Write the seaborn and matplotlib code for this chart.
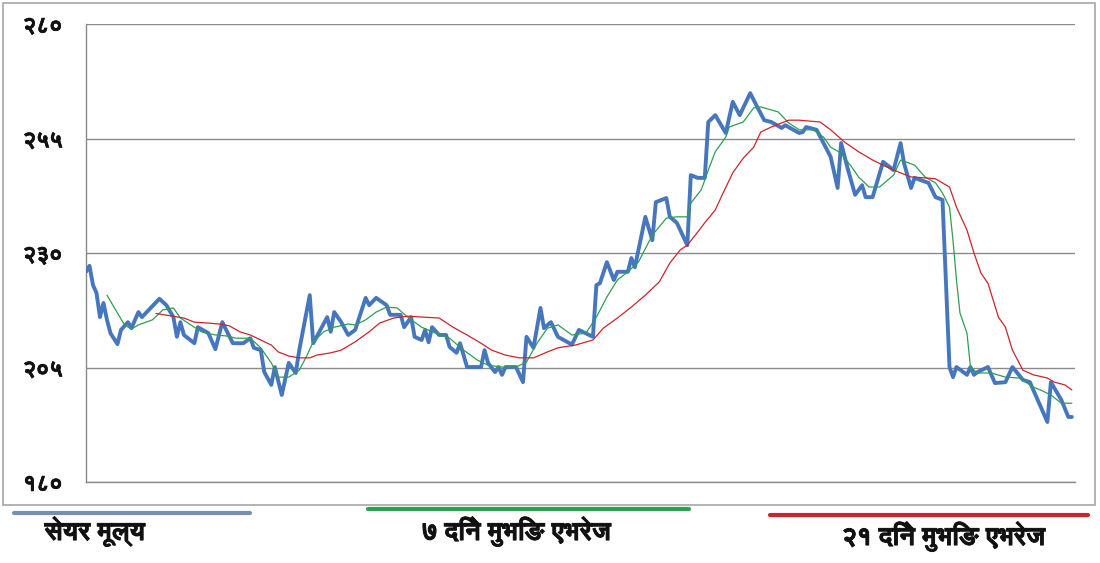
import numpy as np
import pandas as pd
import seaborn as sns
import matplotlib
matplotlib.use("Agg")
import matplotlib.pyplot as plt
from matplotlib import font_manager
from matplotlib import patheffects
from matplotlib.ft2font import FT2Font
from matplotlib.lines import Line2D
from matplotlib.patches import Rectangle

# share price (day index, value)
price_day = [0, 1, 2, 3, 4, 5, 6, 7, 9, 10,
             12, 13, 15, 16, 21, 23, 25, 26, 27, 28,
             31, 32, 35, 37, 39, 42, 45, 47, 48, 50,
             51, 53, 54, 56, 58, 60, 61, 64, 65, 69,
             70, 71, 73, 75, 77, 80, 81, 83, 86, 87,
             90, 91, 93, 94, 96, 97, 98, 99, 101, 103,
             104, 106, 107, 109, 113, 114, 115, 117, 118, 119,
             120, 123, 125, 126, 128, 130, 131, 133, 135, 139,
             141, 145, 146, 147, 149, 151, 152, 155, 156, 157,
             160, 162, 163, 166, 167, 169, 172, 173, 175, 177,
             178, 180, 182, 183, 185, 187, 190, 192, 194, 196,
             199, 200, 204, 205, 206, 209, 213, 215, 216, 218,
             220, 222, 223, 225, 228, 231, 233, 234, 236, 237,
             241, 243, 245, 247, 248, 249, 252, 253, 254, 255,
             258, 260, 263, 265, 268, 270, 275, 276, 279, 281,
             282]
price = [225.9, 227.2, 223.0, 221.3, 216.0, 219.1, 215.4, 212.5, 210.1, 213.2,
         214.9, 213.6, 217.1, 216.0, 220.0, 218.6, 216.0, 211.7, 214.9, 212.1,
         210.3, 213.8, 212.5, 209.0, 214.9, 210.3, 210.3, 211.4, 209.3, 208.8,
         204.0, 201.2, 205.1, 199.0, 206.0, 203.8, 208.8, 220.8, 210.3, 216.0,
         212.8, 217.1, 214.9, 212.1, 213.2, 220.2, 218.6, 220.2, 218.6, 216.5,
         216.5, 213.8, 216.0, 211.7, 211.0, 213.2, 210.5, 213.8, 212.1, 212.1,
         209.5, 208.2, 210.3, 205.1, 205.1, 208.8, 206.0, 204.0, 205.1, 203.4,
         205.1, 205.1, 201.8, 211.7, 209.3, 218.0, 213.6, 214.9, 211.7, 210.0,
         213.2, 211.7, 223.0, 223.4, 228.0, 224.1, 225.9, 225.9, 228.9, 226.9,
         237.9, 232.8, 241.1, 242.0, 237.9, 236.6, 231.7, 247.0, 246.4, 246.4,
         258.6, 260.1, 257.5, 256.2, 263.0, 260.1, 264.9, 261.9, 259.0, 258.6,
         257.3, 257.9, 256.2, 256.4, 257.5, 256.9, 251.0, 244.2, 254.0, 248.1,
         242.7, 244.8, 242.2, 242.2, 249.9, 248.1, 254.0, 249.6, 244.2, 246.4,
         245.3, 242.2, 241.6, 205.1, 202.9, 205.1, 203.4, 205.1, 203.4, 204.0,
         205.1, 201.6, 201.8, 205.1, 202.3, 201.8, 193.1, 201.8, 197.9, 194.2,
         194.2]

# 7 day moving average
ma7_day = [6, 9, 11, 13, 15, 19, 22, 25, 27, 30,
           33, 37, 40, 43, 47, 50, 53, 55, 58, 61,
           63, 65, 68, 71, 75, 77, 80, 83, 86, 89,
           92, 96, 100, 104, 108, 112, 115, 119, 123, 126,
           129, 132, 135, 139, 143, 146, 149, 152, 155, 158,
           162, 166, 169, 172, 173, 176, 178, 180, 183, 184,
           188, 191, 193, 198, 201, 204, 208, 211, 213, 216,
           219, 221, 224, 227, 231, 233, 237, 240, 243, 245,
           247, 248, 249, 250, 252, 253, 255, 259, 263, 267,
           271, 273, 276, 279, 282]
ma7 = [220.8, 216.9, 214.3, 213.4, 214.3, 215.4, 217.6, 218.0, 215.8, 214.3,
       212.8, 212.1, 211.9, 211.4, 211.4, 209.3, 206.0, 202.9, 202.9, 204.4,
       207.3, 210.6, 212.8, 213.8, 214.5, 214.3, 215.4, 217.1, 218.2, 218.0,
       216.0, 213.8, 212.5, 211.4, 208.8, 206.6, 205.5, 205.1, 205.1, 206.2,
       210.3, 213.6, 214.3, 212.1, 212.5, 216.0, 220.4, 224.1, 225.9, 228.0,
       233.9, 237.6, 237.9, 237.9, 240.9, 243.8, 248.1, 252.1, 255.3, 257.5,
       258.6, 261.7, 261.9, 260.8, 258.4, 256.9, 256.9, 255.3, 253.1, 251.8,
       248.8, 246.6, 244.4, 244.4, 247.0, 250.3, 249.2, 246.6, 245.3, 243.1,
       240.0, 232.8, 224.1, 216.9, 212.5, 205.1, 203.8, 203.8, 202.9, 202.7,
       200.7, 200.1, 199.0, 197.2, 197.2]

# 21 day moving average
ma21_day = [20, 28, 31, 35, 38, 41, 44, 47, 50, 53,
            55, 58, 61, 64, 66, 70, 73, 77, 81, 84,
            88, 92, 101, 105, 109, 113, 116, 120, 124, 128,
            132, 135, 140, 145, 148, 152, 156, 160, 164, 167,
            170, 172, 175, 177, 180, 182, 185, 188, 191, 193,
            196, 201, 204, 210, 213, 217, 221, 225, 229, 233,
            236, 240, 243, 247, 249, 252, 254, 256, 258, 261,
            263, 265, 268, 271, 275, 277, 280, 282]
ma21 = [216.8, 215.8, 214.9, 214.7, 214.5, 214.1, 212.8, 212.1, 211.0, 209.9,
        208.4, 207.5, 207.1, 207.1, 207.7, 208.2, 208.8, 210.6, 212.8, 214.7,
        215.8, 216.2, 215.8, 213.8, 212.1, 210.3, 208.8, 207.7, 207.1, 207.1,
        208.4, 209.3, 209.9, 211.0, 213.6, 215.8, 218.2, 220.8, 223.7, 227.8,
        230.7, 231.7, 234.6, 236.6, 239.4, 242.7, 247.5, 250.7, 253.1, 256.4,
        257.5, 259.0, 259.0, 258.6, 256.9, 254.2, 252.1, 250.3, 248.8, 247.5,
        246.6, 246.4, 246.2, 244.4, 240.0, 235.0, 230.0, 225.6, 223.4, 216.0,
        213.8, 208.8, 204.4, 203.4, 202.7, 201.8, 201.2, 200.1]

y_ticks = [180, 205, 230, 255, 280]
y_tick_labels = ["१८०", "२०५", "२३०", "२५५", "२८०"]
labels = ["सेयर मूल्य", "७ दिने मुभिङ एभरेज", "२१ दिने मुभिङ एभरेज"]
colors = ["#4677be", "#2e9e52", "#c9252c"]
legend_colors = ["#7590b4", "#2e9e52", "#c9252c"]


def find_font(ch):
    found = []
    for f in font_manager.fontManager.ttflist:
        try:
            if ord(ch) in FT2Font(f.fname).get_charmap():
                found.append(f)
        except Exception:
            pass
    if not found:
        return None
    heavy = [f for f in found if str(f.weight) in ("bold", "700", "600", "semibold", "800")]
    return (heavy or found)[0].name


sns.set_style("white")
deva = find_font("स")
families = [deva, "DejaVu Sans"] if deva else ["DejaVu Sans"]
plt.rcParams["font.family"] = families

W, H = 1100, 563
fig = plt.figure(figsize=(11, 5.63), dpi=100)
ax = fig.add_axes([86 / W, 1 - 482 / H, (1075 - 86) / W, (482 - 24) / H])

df_p = pd.DataFrame({"day": price_day, "value": price})
df_7 = pd.DataFrame({"day": ma7_day, "value": ma7})
df_21 = pd.DataFrame({"day": ma21_day, "value": ma21})

sns.lineplot(data=df_p, x="day", y="value", ax=ax, color=colors[0], lw=2.8, zorder=3)
sns.lineplot(data=df_7, x="day", y="value", ax=ax, color=colors[1], lw=0.9, zorder=4)
sns.lineplot(data=df_21, x="day", y="value", ax=ax, color=colors[2], lw=0.9, zorder=5)

bold = [patheffects.withStroke(linewidth=0.6, foreground="#111111")]

ax.set_xlim(0, 282.9)
ax.set_ylim(180, 280)
ax.set_yticks(y_ticks)
ax.set_yticklabels(y_tick_labels, fontsize=16.5, fontweight="bold", color="#111111")
for t in ax.get_yticklabels():
    t.set_path_effects([patheffects.withStroke(linewidth=0.4, foreground="#111111")])
ax.set_xticks([])
ax.set_xlabel("")
ax.set_ylabel("")
ax.grid(axis="y", color="#8a8a8a", lw=1)
ax.set_axisbelow(True)
for s in ["top", "right"]:
    ax.spines[s].set_visible(False)
for s in ["left", "bottom"]:
    ax.spines[s].set_color("#8a8a8a")
    ax.spines[s].set_linewidth(1)
ax.tick_params(axis="y", direction="out", length=6, width=1, color="#8a8a8a", pad=11)

# outer frame of the chart area
fig.add_artist(Rectangle((3 / W, 1 - 505 / H), 1092 / W, 502 / H, transform=fig.transFigure,
                         fill=False, ec="#a6a6a6", lw=1.2))

# legend: line above each label
legend_lines = [(14, 250, 513), (368, 689, 509), (770, 1088, 515)]
legend_text = [(95, 531), (517, 531), (944, 536)]
for (x0, x1, y), (tx, ty), c, lab in zip(legend_lines, legend_text, legend_colors, labels):
    fig.add_artist(Line2D([x0 / W, x1 / W], [1 - y / H, 1 - y / H], transform=fig.transFigure,
                          color=c, lw=3))
    fig.text(tx / W, 1 - ty / H, lab, ha="center", va="center", fontsize=18.5,
             fontweight="bold", color="#111111", path_effects=bold)

fig.savefig("out.png", dpi=100)
